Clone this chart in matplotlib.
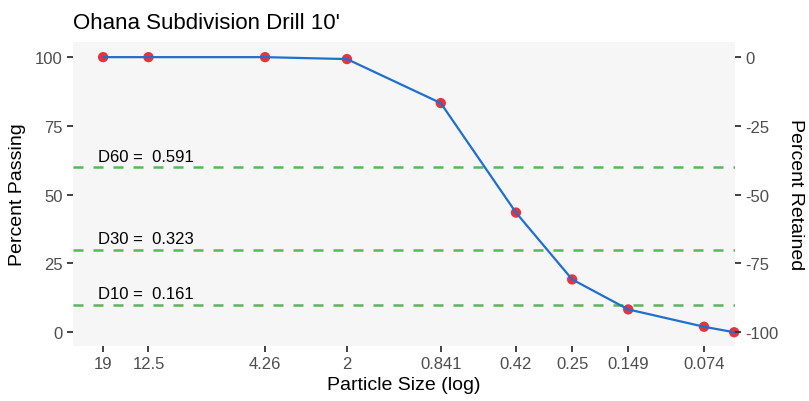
import matplotlib
matplotlib.use("Agg")
import matplotlib.pyplot as plt

# Sieve data
# ----------
sizes = [19, 12.5, 4.26, 2, 0.841, 0.42, 0.25, 0.149, 0.074, 0.056]
passing = [100, 100, 100, 99.3, 83.3, 43.5, 19.2, 8.3, 2.0, 0.0]
tick_sizes = [19, 12.5, 4.26, 2, 0.841, 0.42, 0.25, 0.149, 0.074]
tick_labels = ['19', '12.5', '4.26', '2', '0.841', '0.42', '0.25', '0.149', '0.074']
d_levels = [60, 30, 10]
d_values = [0.591, 0.323, 0.161]
retained_ticks = [0, -25, -50, -75, -100]

plt.rcParams['font.family'] = ['Liberation Sans', 'DejaVu Sans']
plt.rcParams['axes.unicode_minus'] = False

fig = plt.figure(figsize=(8.09, 4.02), dpi=100)
ax = fig.add_axes([0.0902, 0.1368, 0.8183, 0.7562])
ax.set_facecolor('#f6f6f6')

ax.set_xscale('log')
ax.set_xlim(25.1, 0.0556)
ax.set_ylim(-5, 105.5)

# D lines
for lvl, val in zip(d_levels, d_values):
    ax.axhline(lvl, color='#58b85a', lw=1.8, dashes=(4, 4), zorder=1)
    ax.text(20, lvl + 1.2, 'D{} =  {}'.format(lvl, val), fontsize=12,
            ha='left', va='bottom', color='black', zorder=2)

# Curve
ax.scatter(sizes, passing, s=55, color='#e8323c', zorder=3, clip_on=False,
           edgecolors='none')
ax.plot(sizes, passing, color='#1f6fd1', lw=1.6, zorder=4, clip_on=False)

ax.set_xticks(tick_sizes)
ax.set_xticklabels(tick_labels)
ax.xaxis.set_minor_locator(matplotlib.ticker.NullLocator())
ax.set_yticks([0, 25, 50, 75, 100])

for s in ax.spines.values():
    s.set_visible(False)
ax.tick_params(axis='both', colors='#333333', labelcolor='#4d4d4d',
               labelsize=12, length=4, width=1.3)

ax.set_xlabel('Particle Size (log)', fontsize=14, labelpad=3)
ax.set_ylabel('Percent Passing', fontsize=14, labelpad=6)
ax.set_title("Ohana Subdivision Drill 10'", fontsize=16, loc='left', pad=10)

# Right axis: percent retained
ax2 = ax.twinx()
lo, hi = ax.get_ylim()
ax2.set_ylim(lo - 100, hi - 100)
ax2.set_yticks(retained_ticks)
for s in ax2.spines.values():
    s.set_visible(False)
ax2.tick_params(axis='y', colors='#333333', labelcolor='#4d4d4d',
                labelsize=12, length=4, width=1.3)
ax2.set_ylabel('Percent Retained', fontsize=14, rotation=270, labelpad=18)

fig.savefig('out.png', dpi=100)
